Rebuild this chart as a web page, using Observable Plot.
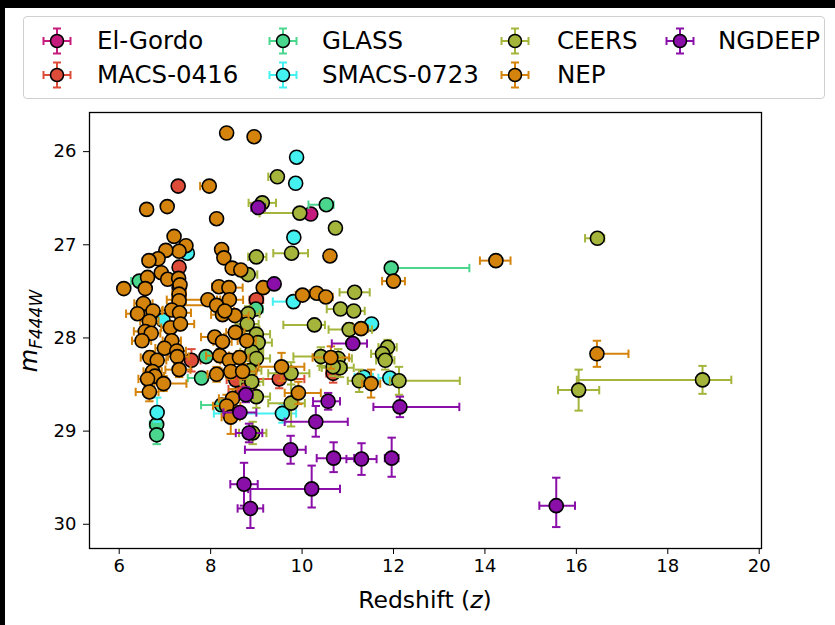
<!DOCTYPE html>
<html><head><meta charset="utf-8">
<script src="https://cdn.jsdelivr.net/npm/d3@7"></script>
<script src="https://cdn.jsdelivr.net/npm/@observablehq/plot@0.6"></script>
<style>
body{margin:0;background:#000;width:835px;height:625px;overflow:hidden;font-family:"DejaVu Sans",sans-serif;}
#page{position:absolute;left:5px;top:8px;width:830px;height:617px;background:#fff;}
#legend{position:absolute;left:23px;top:16px;width:802px;height:83px;border:1px solid #d0d0d0;border-radius:4px;box-sizing:border-box;background:#fff;}
.item{position:absolute;font-size:24.5px;color:#000;line-height:1;white-space:nowrap;}
.handle{position:absolute;}
#chart{position:absolute;left:0;top:100px;}
</style></head>
<body>
<div id="page"></div>
<div id="legend"></div>
<div id="chart"></div>
<script>
// ---- data: [z, m, zErrMinus, zErrPlus, mErrMinus, mErrPlus]
const seriesNames = ["El-Gordo","MACS-0416","GLASS","SMACS-0723","CEERS","NEP","NGDEEP"];
const seriesColors = ["#c51b7d","#dd4b39","#4bd68e","#44f1f1","#a5b53b","#d4840c","#8a0fa8"];
const xTicks = [6,8,10,12,14,16,18,20];
const yTicks = [26,27,28,29,30];

const elGordo = [
 [10.19,26.67,0.08,0.08,0.03,0.03]
];
const macs0416 = [
 [7.29,26.37,0.05,0.05,0.03,0.03],
 [7.31,27.24,0.05,0.05,0.04,0.04],
 [7.31,27.46,0.1,0.1,0.05,0.05],
 [7.58,28.24,0.2,0.2,0.12,0.12],
 [9.00,27.59,0.15,0.15,0.06,0.06],
 [9.50,28.44,0.55,0.55,0.1,0.1],
 [8.69,28.55,0.3,0.3,0.1,0.1],
 [8.55,28.45,0.2,0.2,0.1,0.1],
 [10.68,28.38,0.15,0.15,0.1,0.1]
];
const glass = [
 [10.53,26.57,0.39,0.16,0.03,0.03],
 [11.95,27.25,0.1,1.71,0.03,0.03],
 [6.44,27.39,0.18,0.1,0.03,0.03],
 [8.99,27.69,0.15,0.15,0.05,0.05],
 [7.90,28.20,0.1,0.1,0.04,0.04],
 [7.80,28.43,0.3,0.3,0.05,0.05],
 [8.24,28.72,0.45,0.2,0.05,0.05],
 [6.82,28.93,0.15,0.1,0.06,0.06],
 [6.82,29.04,0.1,0.1,0.08,0.1]
];
const smacs0723 = [
 [9.88,26.06,0.1,0.1,0.02,0.02],
 [9.86,26.34,0.1,0.1,0.02,0.02],
 [9.82,26.92,0.1,0.1,0.02,0.02],
 [9.81,27.61,0.45,0.1,0.03,0.03],
 [11.52,27.85,0.1,0.1,0.03,0.03],
 [11.35,28.42,0.2,0.2,0.06,0.06],
 [11.92,28.43,0.25,0.25,0.06,0.06],
 [9.57,28.81,1.5,0.3,0.1,0.1],
 [6.96,27.81,0.1,0.1,0.03,0.03],
 [6.83,28.80,0.1,0.1,0.16,0.1],
 [7.49,27.09,0.1,0.1,0.03,0.03]
];
const ceers = [
 [9.46,26.27,0.2,0.1,0.02,0.02],
 [9.13,26.55,0.3,0.3,0.03,0.03],
 [9.95,26.66,0.88,0.1,0.03,0.03],
 [10.73,26.82,0.1,0.1,0.03,0.03],
 [9.00,27.13,0.18,0.22,0.03,0.03],
 [9.77,27.09,0.4,0.36,0.03,0.03],
 [8.82,27.32,0.15,0.2,0.03,0.03],
 [11.15,27.51,0.33,0.33,0.04,0.04],
 [10.84,27.69,0.3,0.2,0.05,0.05],
 [11.13,27.71,0.2,0.24,0.05,0.05],
 [10.27,27.86,0.68,0.23,0.05,0.05],
 [11.03,27.91,0.45,0.5,0.07,0.07],
 [11.87,28.10,0.2,0.2,0.08,0.08],
 [11.76,28.17,0.25,0.2,0.08,0.08],
 [11.82,28.24,0.2,0.2,0.1,0.1],
 [10.41,28.20,0.6,0.4,0.1,0.1],
 [10.79,28.22,0.4,0.3,0.1,0.1],
 [10.83,28.32,0.4,0.3,0.1,0.1],
 [10.68,28.31,0.3,0.3,0.1,0.1],
 [11.25,28.46,0.25,0.25,0.12,0.12],
 [12.12,28.46,0.2,1.33,0.15,0.15],
 [9.76,28.38,0.5,0.4,0.12,0.12],
 [9.76,28.70,0.5,0.3,0.25,0.25],
 [8.82,27.74,0.25,0.25,0.08,0.08],
 [8.80,27.85,0.25,0.25,0.08,0.08],
 [9.00,27.96,0.25,0.3,0.08,0.08],
 [9.04,28.05,0.25,0.3,0.08,0.08],
 [8.90,28.15,0.25,0.25,0.08,0.08],
 [9.00,28.22,0.25,0.3,0.08,0.08],
 [8.86,28.35,0.25,0.25,0.1,0.1],
 [8.90,28.47,0.25,0.25,0.1,0.1],
 [9.00,28.63,0.25,0.3,0.12,0.12],
 [8.92,29.02,0.3,0.3,0.12,0.12],
 [16.46,26.93,0.27,0.15,0.03,0.03],
 [18.76,28.45,2.75,0.63,0.15,0.15],
 [16.05,28.56,0.45,0.45,0.22,0.22]
];
const nep = [
 [8.35,25.80,0.1,0.1,0.02,0.02],[8.95,25.84,0.1,0.1,0.02,0.02],
 [7.97,26.37,0.2,0.1,0.02,0.02],[6.60,26.62,0.1,0.1,0.02,0.02],
 [7.05,26.59,0.1,0.1,0.02,0.02],[8.13,26.72,0.1,0.1,0.02,0.02],
 [7.20,26.91,0.1,0.1,0.03,0.03],[7.46,27.01,0.1,0.1,0.03,0.03],
 [7.31,27.07,0.1,0.1,0.03,0.03],[7.02,27.06,0.1,0.1,0.03,0.03],
 [6.85,27.15,0.1,0.1,0.03,0.03],[6.65,27.17,0.1,0.1,0.03,0.03],
 [6.92,27.30,0.1,0.1,0.03,0.03],[7.06,27.37,0.1,0.1,0.03,0.03],
 [7.30,27.36,0.1,0.1,0.03,0.03],[6.62,27.35,0.1,0.1,0.03,0.03],
 [6.57,27.47,0.1,0.1,0.03,0.03],[6.10,27.47,0.1,0.1,0.03,0.03],
 [7.33,27.43,0.1,0.1,0.03,0.03],[7.31,27.53,0.15,0.15,0.04,0.04],
 [7.31,27.60,0.15,0.15,0.04,0.04],[6.53,27.63,0.2,0.2,0.05,0.05],
 [6.40,27.74,0.25,0.2,0.05,0.05],[6.74,27.71,0.2,0.2,0.05,0.05],
 [6.66,27.82,0.2,0.2,0.05,0.05],[6.57,27.93,0.25,0.2,0.06,0.06],
 [6.70,27.95,0.2,0.2,0.06,0.06],[6.50,28.03,0.22,0.2,0.06,0.06],
 [7.15,27.70,0.2,0.2,0.05,0.05],[7.32,27.73,0.2,0.25,0.05,0.05],
 [7.12,27.89,0.2,0.2,0.06,0.06],[7.34,27.85,0.2,0.3,0.06,0.06],
 [7.15,28.03,0.2,0.2,0.06,0.06],[6.99,28.11,0.2,0.2,0.07,0.07],
 [7.26,28.14,0.2,0.2,0.07,0.07],[7.27,28.20,0.2,0.25,0.07,0.07],
 [6.67,28.21,0.2,0.2,0.07,0.07],[6.83,28.24,0.2,0.2,0.07,0.07],
 [7.31,28.34,0.3,0.25,0.08,0.08],[6.73,28.36,0.2,0.2,0.08,0.08],
 [6.78,28.41,0.2,0.2,0.08,0.08],[6.62,28.44,0.2,0.2,0.08,0.08],
 [6.97,28.49,0.2,0.5,0.08,0.08],[6.66,28.58,0.3,0.2,0.1,0.1],
 [8.24,27.05,0.1,0.1,0.03,0.03],[8.29,27.14,0.1,0.1,0.03,0.03],
 [8.47,27.25,0.1,0.1,0.03,0.03],[8.66,27.27,0.1,0.1,0.03,0.03],
 [8.18,27.45,0.15,0.15,0.04,0.04],[8.40,27.46,0.15,0.3,0.04,0.04],
 [9.15,27.46,0.1,0.1,0.04,0.04],[7.94,27.59,0.9,0.2,0.05,0.05],
 [8.13,27.65,0.8,0.2,0.05,0.05],[8.41,27.59,0.2,0.3,0.05,0.05],
 [8.26,27.75,0.25,0.2,0.05,0.05],[8.53,27.76,0.2,0.3,0.05,0.05],
 [8.31,27.71,0.2,0.2,0.05,0.05],[8.09,27.99,0.3,0.2,0.06,0.06],
 [8.26,28.04,0.2,0.2,0.06,0.06],[8.54,27.94,0.2,0.2,0.06,0.06],
 [8.79,28.03,0.2,0.2,0.06,0.06],[8.20,28.19,0.3,0.2,0.07,0.07],
 [8.41,28.24,0.2,0.2,0.07,0.07],[8.63,28.21,0.2,0.2,0.07,0.07],
 [8.44,28.36,0.2,0.2,0.08,0.08],[8.70,28.36,0.2,0.3,0.08,0.08],
 [8.13,28.39,0.2,0.2,0.08,0.08],[8.48,28.65,0.3,0.3,0.1,0.1],
 [8.35,28.73,0.3,0.3,0.12,0.12],[8.44,28.85,0.2,0.2,0.15,0.18],
 [9.55,28.31,0.5,0.5,0.15,0.15],[9.92,28.59,0.3,0.49,0.12,0.12],
 [10.63,28.21,0.4,0.4,0.12,0.12],[11.51,28.49,0.2,0.2,0.15,0.15],
 [10.61,27.12,0.1,0.1,0.03,0.03],[14.24,27.17,0.35,0.32,0.03,0.03],
 [12.00,27.39,0.25,0.25,0.04,0.04],[10.01,27.54,0.15,0.15,0.04,0.04],
 [10.32,27.52,0.15,0.15,0.05,0.05],[10.52,27.56,0.15,0.15,0.05,0.05],
 [11.29,27.90,0.15,0.15,0.06,0.06],[16.45,28.17,0.05,0.69,0.14,0.14]
];
const ngdeep = [
 [9.04,26.60,0.15,0.15,0.03,0.03],
 [9.39,27.42,0.1,0.1,0.03,0.03],
 [11.11,28.06,0.46,0.31,0.03,0.03],
 [8.77,28.61,0.15,0.15,0.08,0.08],
 [8.64,28.80,0.36,0.36,0.05,0.05],
 [8.84,29.02,0.29,0.29,0.1,0.1],
 [9.75,29.20,1.0,0.33,0.15,0.15],
 [10.57,28.68,0.33,0.26,0.09,0.09],
 [10.30,28.90,0.68,0.7,0.17,0.16],
 [12.14,28.74,0.58,1.30,0.11,0.11],
 [10.69,29.29,0.37,0.45,0.17,0.15],
 [11.30,29.30,0.33,0.33,0.17,0.17],
 [11.96,29.29,0.15,0.15,0.22,0.2],
 [10.21,29.62,1.39,0.62,0.25,0.2],
 [15.56,29.80,0.37,0.41,0.3,0.23],
 [8.73,29.57,0.3,0.3,0.23,0.23],
 [8.87,29.83,0.28,0.28,0.21,0.21]
];
const seriesRows = [elGordo, macs0416, glass, smacs0723, ceers, nep, ngdeep];

// ---- chart
const hcap = {draw(ctx, size){const r=Math.sqrt(size/Math.PI);ctx.moveTo(-r,0);ctx.lineTo(r,0);}};
const vcap = {draw(ctx, size){const r=Math.sqrt(size/Math.PI);ctx.moveTo(0,-r);ctx.lineTo(0,r);}};

const marks = [];
seriesRows.forEach((rows, i) => {
  const c = seriesColors[i];
  const d = rows.map(([z,m,zl,zh,ml,mh]) => ({z,m,zl,zh,ml,mh}));
  marks.push(
    Plot.link(d,{x1:r=>r.z-r.zl,x2:r=>r.z+r.zh,y1:"m",y2:"m",stroke:c,strokeWidth:2}),
    Plot.link(d,{x1:"z",x2:"z",y1:r=>r.m-r.ml,y2:r=>r.m+r.mh,stroke:c,strokeWidth:2}),
    Plot.dot(d,{x:r=>r.z-r.zl,y:"m",symbol:vcap,r:4.2,stroke:c,strokeWidth:2,fill:"none"}),
    Plot.dot(d,{x:r=>r.z+r.zh,y:"m",symbol:vcap,r:4.2,stroke:c,strokeWidth:2,fill:"none"}),
    Plot.dot(d,{x:"z",y:r=>r.m-r.ml,symbol:hcap,r:4.2,stroke:c,strokeWidth:2,fill:"none"}),
    Plot.dot(d,{x:"z",y:r=>r.m+r.mh,symbol:hcap,r:4.2,stroke:c,strokeWidth:2,fill:"none"}),
    Plot.dot(d,{x:"z",y:"m",r:7,fill:c,stroke:"black",strokeWidth:1.6})
  );
});
marks.push(Plot.frame({stroke:"black",strokeWidth:1.3}));

const svg = Plot.plot({
  width:835, height:525,
  marginLeft:89, marginRight:74, marginTop:12, marginBottom:77,
  style:{fontFamily:"DejaVu Sans", fontSize:"18px", color:"black", background:"transparent"},
  x:{domain:[5.35,20.05], ticks:xTicks, tickSize:6, tickPadding:5, label:null, tickFormat:d=>String(d)},
  y:{domain:[30.26,25.58], ticks:yTicks, tickSize:6, tickPadding:7, label:null, tickFormat:d=>String(d)},
  marks
});
document.getElementById("chart").appendChild(svg);

const s = d3.select(svg);
const xl = s.append("text").attr("x",425).attr("y",507.5).attr("text-anchor","middle")
  .attr("font-size","23.5px").attr("fill","black");
xl.append("tspan").text("Redshift (");
xl.append("tspan").attr("font-style","italic").text("z");
xl.append("tspan").text(")");
const yl = s.append("text").attr("transform","translate(37,231) rotate(-90)").attr("text-anchor","middle")
  .attr("font-size","24px").attr("fill","black");
yl.append("tspan").attr("font-style","italic").text("m");
yl.append("tspan").attr("font-style","italic").attr("font-size","17px").attr("dy","5").text("F444W");

// ---- legend
const legendPos = [[0,0],[0,1],[1,0],[1,1],[2,0],[2,1],[3,0]];
const colMarker = [57,283,515,680];
const colText = [97,322,557,718];
const rowY = [41,75];
const legLeft = 23, legTop = 16;
const leg = document.getElementById("legend");
seriesNames.forEach((name,i)=>{
  const [c,r] = legendPos[i];
  const mx = colMarker[c]-legLeft-1, my = rowY[r]-legTop-1;
  const h = d3.create("svg").attr("class","handle").attr("width",34).attr("height",34)
    .style("left",(mx-17)+"px").style("top",(my-17)+"px");
  const col = seriesColors[i];
  h.append("line").attr("x1",3.5).attr("x2",30.5).attr("y1",17).attr("y2",17).attr("stroke",col).attr("stroke-width",2);
  h.append("line").attr("x1",17).attr("x2",17).attr("y1",4.5).attr("y2",29.5).attr("stroke",col).attr("stroke-width",2);
  h.append("line").attr("x1",3.5).attr("x2",3.5).attr("y1",13).attr("y2",21).attr("stroke",col).attr("stroke-width",2);
  h.append("line").attr("x1",30.5).attr("x2",30.5).attr("y1",13).attr("y2",21).attr("stroke",col).attr("stroke-width",2);
  h.append("line").attr("x1",13).attr("x2",21).attr("y1",4.5).attr("y2",4.5).attr("stroke",col).attr("stroke-width",2);
  h.append("line").attr("x1",13).attr("x2",21).attr("y1",29.5).attr("y2",29.5).attr("stroke",col).attr("stroke-width",2);
  h.append("circle").attr("cx",17).attr("cy",17).attr("r",6.5).attr("fill",col).attr("stroke","black").attr("stroke-width",1.5);
  leg.appendChild(h.node());
  const t = document.createElement("div");
  t.className="item"; t.textContent=name;
  t.style.left=(colText[c]-legLeft-1)+"px";
  t.style.top=(rowY[r]-legTop-1-12)+"px";
  leg.appendChild(t);
});
</script>
</body></html>
